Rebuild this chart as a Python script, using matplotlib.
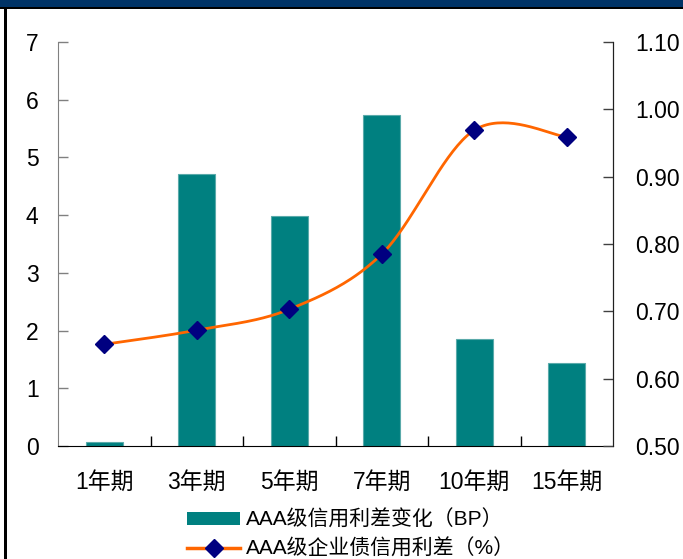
import numpy as np
import matplotlib
matplotlib.use('Agg')
import matplotlib.pyplot as plt
from matplotlib.lines import Line2D
from matplotlib.patches import Patch, Rectangle

plt.rcParams['font.family'] = ['Liberation Sans', 'Noto Sans CJK SC', 'DejaVu Sans']

# data
terms = ['1年期', '3年期', '5年期', '7年期', '10年期', '15年期']
spread_change_bp = [0.07, 4.71, 3.99, 5.74, 1.86, 1.43]
corp_spread_pct = [0.651, 0.672, 0.703, 0.785, 0.969, 0.959]

bar_color = '#008080'
line_color = '#FF6600'
marker_color = '#000080'

fig = plt.figure(figsize=(6.83, 5.59), dpi=100)
ax = fig.add_axes([58 / 683, 113 / 559, 555 / 683, 404 / 559])
ax2 = ax.twinx()

x = np.arange(len(terms))
ax.bar(x, spread_change_bp, width=0.4, color=bar_color, edgecolor='#5AAAAA', linewidth=0.8, zorder=2)
ax.set_xlim(-0.5, len(terms) - 0.5)
ax.set_ylim(0, 7)
ax.set_yticks(range(0, 8))

# smoothed line (Catmull-Rom in pixel space, like an office "smooth line")
sx, sy = 92.5, 673.3
px = x * sx
py = (np.array(corp_spread_pct) - 0.5) * sy
curve_x, curve_y = [], []
for i in range(len(px) - 1):
    p0 = (px[max(i - 1, 0)], py[max(i - 1, 0)])
    p1 = (px[i], py[i])
    p2 = (px[i + 1], py[i + 1])
    p3 = (px[min(i + 2, len(px) - 1)], py[min(i + 2, len(px) - 1)])
    c1 = (p1[0] + (p2[0] - p0[0]) / 6, p1[1] + (p2[1] - p0[1]) / 6)
    c2 = (p2[0] - (p3[0] - p1[0]) / 6, p2[1] - (p3[1] - p1[1]) / 6)
    t = np.linspace(0, 1, 40)
    bx = (1 - t) ** 3 * p1[0] + 3 * (1 - t) ** 2 * t * c1[0] + 3 * (1 - t) * t ** 2 * c2[0] + t ** 3 * p2[0]
    by = (1 - t) ** 3 * p1[1] + 3 * (1 - t) ** 2 * t * c1[1] + 3 * (1 - t) * t ** 2 * c2[1] + t ** 3 * p2[1]
    curve_x.extend(bx)
    curve_y.extend(by)
curve_x = np.array(curve_x) / sx
curve_y = np.array(curve_y) / sy + 0.5

ax2.plot(curve_x, curve_y, color=line_color, linewidth=2.0, zorder=3)
ax2.plot(x, corp_spread_pct, linestyle='none', marker='D', markersize=9,
         color=marker_color, zorder=4)
ax2.set_ylim(0.5, 1.1)
ax2.set_yticks(np.arange(0.5, 1.101, 0.1))
ax2.set_yticklabels([f'{v:.2f}' for v in np.arange(0.5, 1.101, 0.1)])

# axes styling
ax.set_xticks(x)
ax.set_xticklabels(terms)
ax.set_xticks(np.arange(0.5, len(terms) - 0.5, 1), minor=True)
ax.tick_params(axis='x', which='major', length=0, pad=18, labelsize=16.5)
ax.tick_params(axis='x', which='minor', direction='in', length=7, color='black', width=1)
ax.tick_params(axis='y', direction='in', length=7, color='#808080', width=1, pad=14, labelsize=16.5)
ax2.tick_params(axis='y', direction='in', length=7, color='#404040', width=1, pad=16, labelsize=16.5)
for a in (ax, ax2):
    a.spines['top'].set_visible(False)
ax.spines['left'].set_color('#808080')
ax.spines['bottom'].set_color('black')
ax2.spines['left'].set_visible(False)
ax2.spines['bottom'].set_visible(False)
ax2.spines['right'].set_color('#202020')

# legend
handles = [
    Patch(facecolor=bar_color, edgecolor='none'),
    Line2D([], [], color=line_color, linewidth=2.5, marker='D', markersize=9,
           markerfacecolor=marker_color, markeredgecolor=marker_color),
]
labels = ['AAA级信用利差变化（BP）', 'AAA级企业债信用利差（%）']
fig.legend(handles, labels, loc='upper left', bbox_to_anchor=(187 / 683, 1 - 510 / 559),
           frameon=False, fontsize=15, handlelength=2.55, handleheight=0.6,
           handletextpad=0.3, labelspacing=0.42, borderpad=0, borderaxespad=0)

# frame decorations
fig.patches.append(Rectangle((0, 1 - 7 / 559), 1, 7 / 559, transform=fig.transFigure,
                             facecolor='#003366', edgecolor='none', zorder=0))
fig.patches.append(Rectangle((0, 1 - 9 / 559), 1, 2 / 559, transform=fig.transFigure,
                             facecolor='black', edgecolor='none', zorder=0))
fig.patches.append(Rectangle((4 / 683, 0), 3 / 683, 1 - 7 / 559, transform=fig.transFigure,
                             facecolor='black', edgecolor='none', zorder=0))

fig.savefig('out.png', dpi=100)
